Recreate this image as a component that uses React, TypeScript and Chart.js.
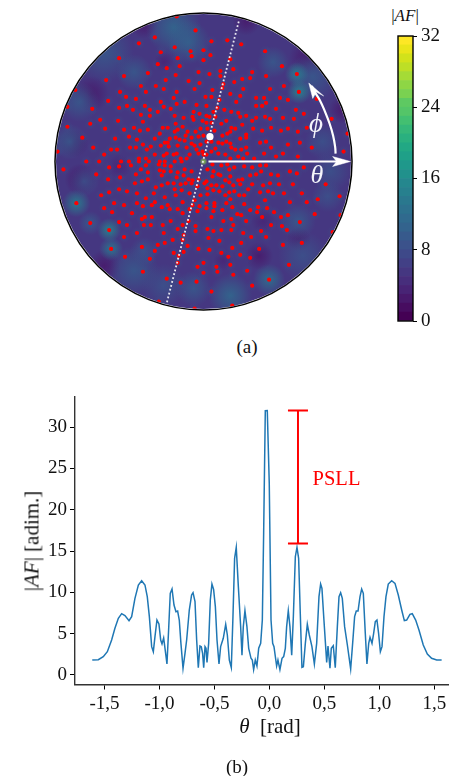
import React, { useEffect, useRef } from "react";
import { Chart, registerables } from "chart.js";

Chart.register(...registerables);

const SERIF = '"Liberation Serif", "Times New Roman", serif';

// Panel (b): |AF| cut against theta
const thetaRad = [-1.611,-1.556,-1.511,-1.474,-1.435,-1.405,-1.374,-1.344,-1.314,-1.277,-1.253,-1.223,-1.192,-1.162,-1.132,-1.111,-1.092,-1.071,-1.056,-1.041,-1.023,-1.005,-0.989,-0.977,-0.962,-0.944,-0.932,-0.917,-0.902,-0.886,-0.868,-0.85,-0.835,-0.82,-0.805,-0.786,-0.768,-0.753,-0.729,-0.708,-0.695,-0.677,-0.662,-0.647,-0.632,-0.62,-0.608,-0.598,-0.586,-0.577,-0.568,-0.553,-0.538,-0.523,-0.508,-0.492,-0.477,-0.459,-0.444,-0.42,-0.398,-0.383,-0.365,-0.347,-0.332,-0.317,-0.302,-0.283,-0.262,-0.25,-0.238,-0.223,-0.205,-0.189,-0.168,-0.156,-0.144,-0.129,-0.114,-0.098,-0.08,-0.065,-0.053,-0.038,-0.02,-0.002,0.014,0.029,0.041,0.065,0.077,0.095,0.114,0.129,0.144,0.156,0.171,0.186,0.202,0.217,0.235,0.25,0.265,0.28,0.295,0.308,0.326,0.344,0.362,0.386,0.408,0.429,0.45,0.465,0.477,0.495,0.52,0.532,0.55,0.562,0.58,0.598,0.617,0.632,0.647,0.662,0.683,0.708,0.738,0.756,0.774,0.789,0.805,0.823,0.838,0.853,0.871,0.886,0.902,0.914,0.932,0.947,0.962,0.977,0.992,1.008,1.023,1.041,1.059,1.08,1.111,1.141,1.171,1.202,1.226,1.247,1.277,1.298,1.329,1.359,1.398,1.435,1.474,1.52,1.565];
const afValues = [1.81,1.85,2.22,2.82,4.23,5.65,6.85,7.42,7.18,6.57,7.06,9.27,10.89,11.41,10.89,9.48,7.06,3.43,2.82,4.64,6.65,6.17,4.23,3.75,4.48,2.62,1.33,5.44,9.88,10.4,8.47,7.66,7.74,6.65,3.83,0.81,2.62,4.23,7.86,9.68,9.96,8.87,4.23,0.89,3.51,3.43,2.62,0.89,3.43,3.23,1.53,3.83,9.07,11.0,10.36,8.27,4.23,1.33,3.43,4.44,6.13,4.84,1.81,0.89,7.06,14.11,15.44,10.69,5.85,2.38,5.85,7.78,5.85,3.23,2.02,1.81,0.65,1.81,1.09,3.23,3.83,6.65,17.14,31.98,32,23.19,6.65,3.83,3.43,1.09,1.81,0.65,2.02,2.22,3.23,5.85,7.78,5.85,2.38,7.06,14.31,15.44,14.11,7.46,0.93,1.01,3.83,6.13,4.84,3.43,1.33,3.83,9.48,11.0,10.48,6.65,1.53,3.51,0.81,3.23,3.55,0.89,5.85,9.48,9.96,9.27,5.85,3.63,0.73,3.83,7.06,7.74,7.74,9.48,10.4,9.88,5.04,1.33,3.83,4.56,3.83,5.04,6.45,6.65,5.04,2.82,3.43,7.06,9.48,11.0,11.41,11.09,9.68,7.86,6.57,6.65,7.34,7.42,6.65,5.44,3.63,2.54,2.02,1.81,1.81];
const thetaTicks = [-1.5,-1,-0.5,0,0.5,1,1.5];
const afTicks = [0,5,10,15,20,25,30];
const bracketTheta = 0.259;
const bracketCap = 0.091;
const bracketTop = 32;
const bracketBottom = 15.9;

// Panel (a): array element positions
const elementU = [-46,-37,-24,-5,-56,-28,-80,-98,-38,-15,-63,-48,-40,-58,-84,-27,-9,-4,-78,-68,-30,-96,-43,-19,-27,-59,-77,-85,-40,-33,-112,-71,-54,-46,-7,-10,-4,-63,-54,-29,-104,-86,-11,-10,-61,-114,-28,-20,-1,-137,-99,-80,-70,-64,-56,-41,-36,-21,-29,-44,-26,-16,-8,-3,0,-122,-89,-75,-67,-49,-34,-28,-18,-5,-36,-24,-39,-61,-53,-111,-93,-87,-74,-68,-57,-43,-35,-26,-12,-19,-12,-17,-9,-3,-7,-1,-100,-49,-65,-58,-40,-37,-27,-30,-14,-5,0,-23,-17,-8,-49,-65,8,24,38,-29,-13,0,-43,-12,7,-26,-85,0,27,62,-27,-129,-137,-147,145,
79,30,6,17,49,17,63,94,39,47,31,20,81,40,19,9,67,96,27,37,8,2,16,53,61,77,85,114,33,63,59,53,3,14,21,73,93,101,35,28,10,3,12,43,53,62,80,91,6,49,67,37,23,39,8,3,18,104,129,85,68,50,32,78,95,28,27,59,43,24,19,11,37,43,4,57,63,97,23,27,15,8,19,85,68,43,109,12,32,38,28,141,44,61,73,80,95,22,27,15,35,3,51,40,3,8,
-118,-105,-83,-75,-65,-55,-44,-39,-29,-22,-141,-95,-85,-73,-58,-63,-45,-39,-33,-44,-40,-33,-26,-19,-12,-56,-68,-108,-84,-42,-20,-27,-96,-56,-62,-69,-15,-11,-5,-30,-23,-36,-42,-48,-18,-12,1,-6,-85,-95,-77,-67,-103,-50,-29,-22,-28,-39,-14,-58,-9,-3,-21,-128,-90,-80,-67,-49,-52,-61,-36,-42,-34,-26,-100,-14,-11,-4,-92,-72,-21,-6,-59,-52,-62,-33,-15,-85,-114,-77,-60,-53,-41,-21,-8,-95,-26,-40,-67,-8,-80,-20,-31,-39,-46,-21,-62,-93,-16,-5,-49,-30,-20,-79,-25,-54,
9,18,24,31,41,49,57,63,101,26,4,10,15,17,9,58,53,47,68,75,87,94,27,35,39,22,26,3,8,13,19,30,37,49,60,67,76,90,123,4,45,10,16,26,31,57,65,70,81,99,22,36,41,4,137,27,23,62,115,3,11,11,41,87,104,29,55,64,3,10,19,47,38,34,54,71,112,8,59,78,85,28,20,43,97,68,79,30,84,4,10,18,28,58,40,48,63,5,16,38,99,80,29,56,6,18,37,25,47,130,138,
-6,0,13,0,14,27,44,30,86,-61,-37,-23,-7,66,49,8,-26,-45,-9,29];
const elementV = [98,94,96,90,89,87,86,82,82,81,76,76,73,70,70,70,73,79,65,63,64,61,60,60,58,56,56,54,55,53,53,52,52,50,57,50,48,47,46,46,42,41,45,42,40,38,38,44,41,35,33,32,34,31,32,34,34,35,30,28,32,30,30,33,26,24,23,25,22,23,23,24,26,25,19,22,19,17,15,14,12,12,14,14,12,16,15,16,24,21,18,14,16,17,12,10,7,7,3,3,6,8,8,7,7,8,7,3,3,132,125,119,121,122,118,115,111,112,110,106,107,104,104,102,103,111,146,72,55,10,28,
96,93,88,91,90,86,86,88,83,84,80,78,76,73,74,72,73,70,68,66,65,65,62,64,64,64,62,63,60,59,56,56,56,54,52,53,52,48,49,50,50,46,45,46,44,45,44,43,45,41,43,45,41,37,39,39,38,34,43,33,34,33,33,31,30,34,30,31,27,28,26,31,23,24,33,19,20,19,20,18,19,20,18,17,14,14,14,13,12,12,14,10,8,8,5,8,5,7,3,8,5,7,3,3,20,10,
0,0,0,0,0,0,0,0,0,0,-8,-6,-5,-4,-4,-8,-3,-4,-5,-9,-10,-10,-11,-8,-10,-11,-13,-13,-16,-14,-14,-16,-18,-18,-20,-22,-18,-19,-18,-22,-23,-22,-24,-26,-22,-22,-22,-25,-28,-31,-30,-32,-34,-32,-28,-29,-34,-36,-32,-37,-39,-34,-41,-42,-42,-44,-42,-41,-44,-45,-44,-46,-48,-48,-47,-48,-44,-45,-51,-52,-52,-50,-56,-56,-58,-60,-60,-61,-62,-64,-64,-64,-64,-64,-65,-69,-68,-72,-72,-70,-76,-74,-79,-82,-84,-79,-86,-88,-85,-88,-90,-92,-91,-96,-95,-98,
-3,-4,-3,-6,-5,-6,-4,-4,-6,-8,-8,-10,-13,-14,-15,-10,-13,-14,-13,-14,-10,-12,-15,-19,-18,-19,-21,-20,-24,-24,-25,-24,-23,-23,-24,-22,-23,-23,-23,-27,-28,-29,-30,-31,-30,-31,-30,-32,-32,-32,-34,-34,-34,-33,-35,-38,-42,-39,-38,-42,-42,-45,-43,-41,-41,-46,-46,-47,-47,-50,-49,-49,-54,-53,-51,-51,-53,-56,-56,-56,-54,-58,-60,-60,-61,-64,-65,-64,-69,-68,-70,-69,-69,-70,-72,-76,-76,-77,-80,-82,-82,-84,-87,-88,-89,-92,-94,-96,-97,-71,-54,
-106,-102,-106,-112,-111,-104,-110,-114,-104,-111,-118,-122,-121,-119,-125,-131,-102,-141,-148,-145];
const cutLineU = [35.5, -37];
const cutLineV = [141, -142.5];
const markerDotU = 6.5;
const markerDotV = 25;
const thetaShaftU = [5, 135];
const thetaShaftV = [0, 0];
const thetaHeadU = [148, 130, 134, 130, 148];
const thetaHeadV = [0, 5, 0, -5, 0];
const phiArcU = [133, 132.5, 130.5, 127, 122, 117, 112, 109];
const phiArcV = [8, 15, 26, 38, 51, 62, 70, 76];
const phiHeadU = [106, 121, 113.5, 110, 106];
const phiHeadV = [79, 66, 70, 63.5, 79];

// Panel (a): background |AF| lobes (position, spread, level)
const lobeU = [-113,-130,-124,56,-100,96,104,-60,43,140,-40,60,-85,20,-30,-15,-100,-70,110,96,94,120,128,95,66,27,100,-128,-95,-93,-114,-70,-120,-40,-135,-125,-60,70,125,-10];
const lobeV = [68,18,-18,-95,-105,-78,105,138,141,52,100,-60,-5,-100,135,120,110,90,85,70,88,20,-10,-60,-119,-135,-95,-42,-69,-88,-62,-110,-20,-125,20,60,-90,100,-35,-128];
const lobeR = [18,14,16,14,16,12,18,14,14,14,10,12,12,10,28,22,30,18,25,12,12,18,20,18,16,22,25,14,12,12,12,25,15,22,18,20,14,16,16,18];
const lobeLevel = [1.5,2,2,2,2,2,2,2,2,2,3,3,3,3,11,10,9,9,9,15,14,8,8,9,12,11,8,14,15,13,9,9,8,8,9,9,8,9,8,9];

// Colour bar: one colour per unit of |AF|
const viridis = ["#440154","#470d60","#48196b","#482475","#472e7c","#453781","#424086","#3e4989","#3b528b","#375a8c","#33638d","#306a8e","#2d718e","#2a788e","#27808e","#25878e","#21918c","#1f988b","#1fa088","#22a884","#2ab07f","#35b779","#43bf71","#54c568","#5ec962","#7ad151","#8ed645","#a5db36","#bddf26","#d2e21b","#eae51a","#fde725"];
const colorbarTicks = [0,8,16,24,32];

const hexA = (hex: string, a: number) => {
  const n = parseInt(hex.slice(1), 16);
  return `rgba(${n >> 16},${(n >> 8) & 255},${n & 255},${a})`;
};

const heatPlugin = {
  id: "heat",
  beforeDatasetsDraw(chart: any) {
    const { ctx, scales } = chart;
    const cx = scales.x.getPixelForValue(0);
    const cy = scales.y.getPixelForValue(0);
    const scale = (scales.x.right - scales.x.left) / 297;
    const R = 148.5 * scale;
    ctx.save();
    ctx.beginPath();
    ctx.arc(cx, cy, R, 0, Math.PI * 2);
    ctx.clip();
    ctx.fillStyle = viridis[5];
    ctx.fillRect(cx - R, cy - R, R * 2, R * 2);
    const lobe = (u: number, v: number, r: number, level: number, a: number) => {
      const x = scales.x.getPixelForValue(u);
      const y = scales.y.getPixelForValue(v);
      const c = viridis[Math.round(level)];
      const g = ctx.createRadialGradient(x, y, 0, x, y, r);
      g.addColorStop(0, hexA(c, a));
      g.addColorStop(0.5, hexA(c, a * 0.55));
      g.addColorStop(1, hexA(c, 0));
      ctx.fillStyle = g;
      ctx.fillRect(x - r, y - r, r * 2, r * 2);
    };
    elementU.forEach((u, i) => lobe(u, elementV[i], 6, 9, 0.28));
    lobeU.forEach((u, i) => lobe(u, lobeV[i], lobeR[i], lobeLevel[i], 0.85));
    lobe(0, 0, 4, 26, 1);
  },
  afterDatasetsDraw(chart: any) {
    const { ctx, scales } = chart;
    ctx.restore();
    const cx = scales.x.getPixelForValue(0);
    const cy = scales.y.getPixelForValue(0);
    ctx.beginPath();
    ctx.arc(cx, cy, 148.5, 0, Math.PI * 2);
    ctx.lineWidth = 1.5;
    ctx.strokeStyle = "#000";
    ctx.stroke();
  },
};

const boxPlugin = {
  id: "box",
  afterDraw(chart: any) {
    const { ctx, chartArea: a } = chart;
    ctx.lineWidth = 1.4;
    ctx.strokeStyle = "#000";
    ctx.strokeRect(a.left, a.top, a.right - a.left, a.bottom - a.top);
  },
};

const pts = (xs: number[], ys: number[]) => xs.map((x, i) => ({ x, y: ys[i] }));

const tickFont = { family: SERIF, size: 19 };

function Canvas({ style, build }: { style: React.CSSProperties; build: (c: HTMLCanvasElement) => Chart }) {
  const ref = useRef<HTMLCanvasElement>(null);
  useEffect(() => {
    const chart = build(ref.current!);
    return () => chart.destroy();
  }, []);
  return <canvas ref={ref} width={style.width as number} height={style.height as number} style={{ position: "absolute", ...style }} />;
}

const baseOptions = {
  responsive: false,
  animation: false as const,
  plugins: { legend: { display: false }, tooltip: { enabled: false }, title: { display: false } },
};

const buildPolar = (c: HTMLCanvasElement) =>
  new Chart(c, {
    type: "scatter",
    data: {
      datasets: [
        { data: [{ x: markerDotU, y: markerDotV }], pointRadius: 3.6, pointBackgroundColor: "#fff", pointBorderWidth: 0 },
        { data: pts(thetaHeadU, thetaHeadV), showLine: true, fill: "shape", backgroundColor: "#fff", borderColor: "#fff", borderWidth: 0.5, pointRadius: 0 },
        { data: pts(thetaShaftU, thetaShaftV), showLine: true, borderColor: "#fff", borderWidth: 2.2, pointRadius: 0 },
        { data: pts(phiHeadU, phiHeadV), showLine: true, fill: "shape", backgroundColor: "#fff", borderColor: "#fff", borderWidth: 0.5, pointRadius: 0 },
        { data: pts(phiArcU, phiArcV), showLine: true, borderColor: "#fff", borderWidth: 2.2, pointRadius: 0, tension: 0.4 },
        { data: pts(cutLineU, cutLineV), showLine: true, borderColor: "#e6e6f0", borderWidth: 1.8, borderDash: [1.8, 2.2], pointRadius: 0 },
        { data: pts(elementU, elementV), pointRadius: 2.1, pointBackgroundColor: "#ff0000", pointBorderWidth: 0 },
      ],
    },
    options: {
      ...baseOptions,
      layout: { padding: 3 },
      scales: {
        x: { type: "linear", display: false, min: -148.5, max: 148.5 },
        y: { type: "linear", display: false, min: -148.5, max: 148.5 },
      },
    } as any,
    plugins: [heatPlugin],
  });

const buildColorbar = (c: HTMLCanvasElement) =>
  new Chart(c, {
    type: "bar",
    data: {
      labels: ["|AF|"],
      datasets: viridis.map((color) => ({
        data: [1],
        backgroundColor: color,
        borderWidth: 0,
        barPercentage: 1,
        categoryPercentage: 1,
        stack: "s",
      })),
    },
    options: {
      ...baseOptions,
      layout: { padding: { left: 8, top: 8, right: 0, bottom: 8 } },
      scales: {
        x: { display: false, stacked: true },
        y: {
          position: "right",
          stacked: true,
          min: 0,
          max: 32,
          afterBuildTicks: (s: any) => { s.ticks = colorbarTicks.map((value) => ({ value })); },
          afterFit: (s: any) => { s.width = 36; s.paddingTop = 0; s.paddingBottom = 0; },
          ticks: { font: tickFont, color: "#111", padding: 4 },
          grid: { drawOnChartArea: false, drawTicks: true, tickLength: 4, color: "#000", lineWidth: 1 },
          border: { display: false },
        },
      },
    } as any,
    plugins: [boxPlugin],
  });

const buildLine = (c: HTMLCanvasElement) =>
  new Chart(c, {
    type: "scatter",
    data: {
      datasets: [
        { data: pts([bracketTheta, bracketTheta], [bracketTop, bracketBottom]), showLine: true, borderColor: "#ff0000", borderWidth: 2, pointRadius: 0 },
        { data: pts([bracketTheta - bracketCap, bracketTheta + bracketCap], [bracketTop, bracketTop]), showLine: true, borderColor: "#ff0000", borderWidth: 2, pointRadius: 0 },
        { data: pts([bracketTheta - bracketCap, bracketTheta + bracketCap], [bracketBottom, bracketBottom]), showLine: true, borderColor: "#ff0000", borderWidth: 2, pointRadius: 0 },
        { data: pts(thetaRad, afValues), showLine: true, borderColor: "#1f77b4", borderWidth: 1.5, pointRadius: 0, tension: 0 },
      ],
    },
    options: {
      ...baseOptions,
      layout: { padding: { left: 0, top: 7, right: 0, bottom: 0 } },
      scales: {
        x: {
          type: "linear",
          min: -1.768,
          max: 1.632,
          afterBuildTicks: (s: any) => { s.ticks = thetaTicks.map((value) => ({ value })); },
          afterFit: (s: any) => { s.height = 91.5; s.paddingLeft = 0; s.paddingRight = 0; },
          ticks: { font: tickFont, color: "#111", padding: 3, maxRotation: 0, autoSkip: false, callback: (v: number) => v.toFixed(1).replace(".", ",") },
          grid: { drawOnChartArea: false, drawTicks: true, tickLength: 5, color: "#000", lineWidth: 1 },
          border: { color: "#333", width: 1.4 },
        },
        y: {
          type: "linear",
          min: -1.15,
          max: 33.63,
          afterBuildTicks: (s: any) => { s.ticks = afTicks.map((value) => ({ value })); },
          afterFit: (s: any) => { s.width = 75; s.paddingTop = 0; s.paddingBottom = 0; },
          ticks: { font: tickFont, color: "#111", padding: 3 },
          grid: { drawOnChartArea: false, drawTicks: true, tickLength: 5, color: "#000", lineWidth: 1 },
          border: { color: "#333", width: 1.4 },
        },
      },
    } as any,
  });

const label = (x: number, y: number, size: number, color = "#111", extra: React.CSSProperties = {}): React.CSSProperties => ({
  position: "absolute",
  left: x,
  top: y,
  transform: "translate(-50%,-50%)",
  fontFamily: SERIF,
  fontSize: size,
  lineHeight: 1,
  color,
  whiteSpace: "pre",
  ...extra,
});

export default function App() {
  return (
    <div style={{ position: "absolute", left: 0, top: 0, width: 449, height: 776, overflow: "hidden", background: "#fff" }}>
      <Canvas style={{ left: 52, top: 10, width: 303, height: 303 }} build={buildPolar} />
      <Canvas style={{ left: 390, top: 28, width: 59, height: 301 }} build={buildColorbar} />
      <Canvas style={{ left: 0, top: 390, width: 449, height: 386 }} build={buildLine} />
      <div style={label(405, 15, 17)}>|<i>AF</i>|</div>
      <div style={label(316, 123, 27, "#f4f4fa")}><i>ϕ</i></div>
      <div style={label(317, 175, 26, "#f4f4fa")}><i>θ</i></div>
      <div style={label(247, 346, 19)}>(a)</div>
      <div style={label(336.5, 478, 20.5, "#ff0000")}>PSLL</div>
      <div style={label(32, 541, 21, "#111", { transform: "translate(-50%,-50%) rotate(-90deg)" })}>|<i>AF</i>| [adim.]</div>
      <div style={label(270, 726, 21)}><i>θ</i>{"  "}[rad]</div>
      <div style={label(237, 766, 19)}>(b)</div>
    </div>
  );
}
